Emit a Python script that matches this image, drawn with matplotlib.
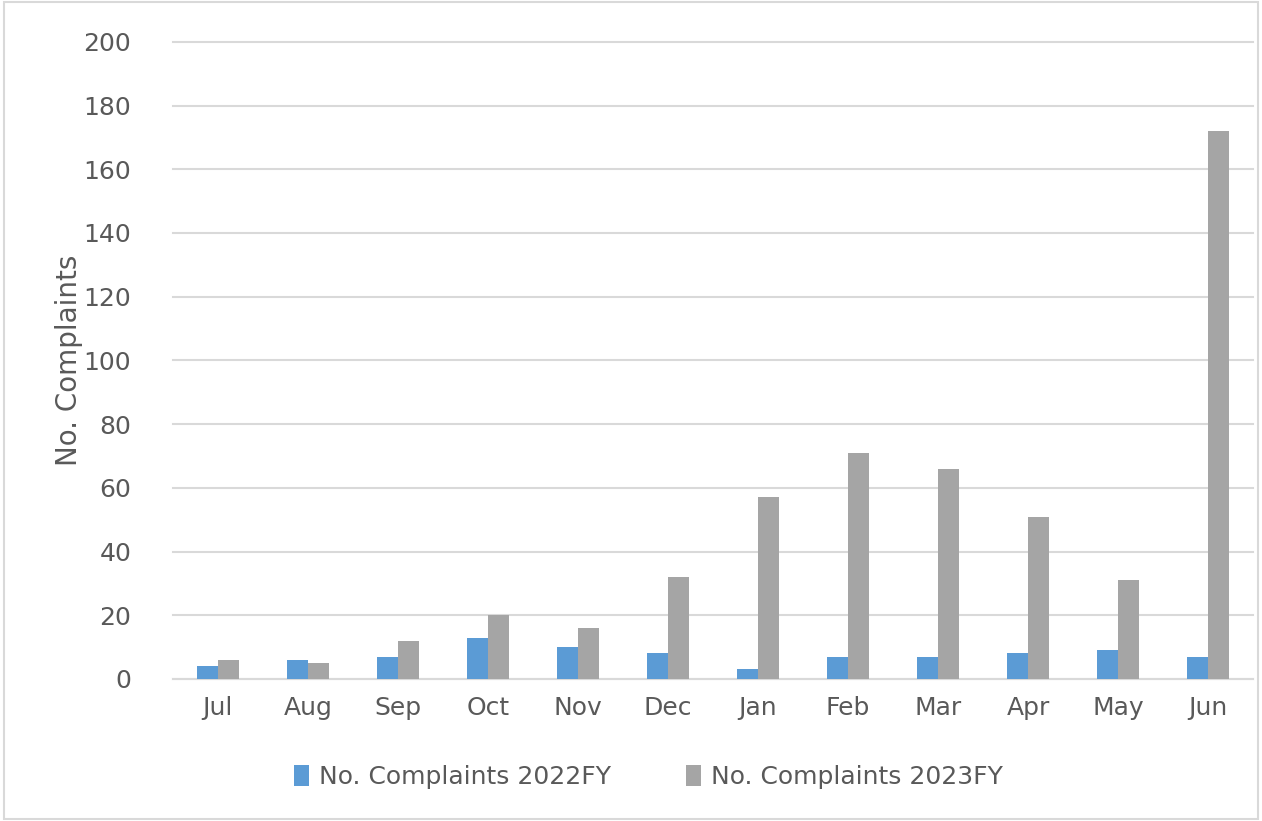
import numpy as np
import matplotlib.pyplot as plt
from matplotlib.patches import Rectangle

months = ['Jul', 'Aug', 'Sep', 'Oct', 'Nov', 'Dec', 'Jan', 'Feb', 'Mar', 'Apr', 'May', 'Jun']
complaints_2022 = [4, 6, 7, 13, 10, 8, 3, 7, 7, 8, 9, 7]
complaints_2023 = [6, 5, 12, 20, 16, 32, 57, 71, 66, 51, 31, 172]
series_names = ['No. Complaints 2022FY', 'No. Complaints 2023FY']

plt.rcParams['font.family'] = ['DejaVu Sans']

fig = plt.figure(figsize=(12.62, 8.21), dpi=100)
ax = fig.add_axes([0.137, 0.173, 0.856, 0.776])
x = np.arange(len(months))
w = 0.23
ax.bar(x - w / 2, complaints_2022, w, color='#5B9BD5', label=series_names[0], zorder=3)
ax.bar(x + w / 2, complaints_2023, w, color='#A5A5A5', label=series_names[1], zorder=3)

ax.set_xlim(-0.5, len(months) - 0.5)
ax.set_ylim(0, 200)
ax.set_yticks(np.arange(0, 201, 20))
ax.set_xticks(x)
ax.set_xticklabels(months)
ax.yaxis.grid(True, color='#D9D9D9', linewidth=1.5, zorder=0)
for gl in ax.get_ygridlines():
    gl.set_clip_on(False)
for s in ['top', 'right', 'left']:
    ax.spines[s].set_visible(False)
ax.spines['bottom'].set_color('#D9D9D9')
ax.spines['bottom'].set_linewidth(1.5)
ax.tick_params(axis='both', length=0, labelsize=18, colors='#595959', pad=12)
ax.tick_params(axis='y', pad=30)
ax.set_ylabel('No. Complaints', fontsize=20, color='#595959', labelpad=0)
ax.yaxis.set_label_coords(-0.083, 0.5)

ax.legend(loc='upper center', bbox_to_anchor=(0.44, -0.1), ncol=2, frameon=False,
          fontsize=18, labelcolor='#595959', handlelength=0.6, handleheight=0.9,
          handletextpad=0.4, columnspacing=3)

fig.patches.append(Rectangle((0.003, 0.003), 0.994, 0.994, transform=fig.transFigure,
                             fill=False, edgecolor='#D9D9D9', linewidth=1.5))
fig.savefig('out.png', dpi=100)
